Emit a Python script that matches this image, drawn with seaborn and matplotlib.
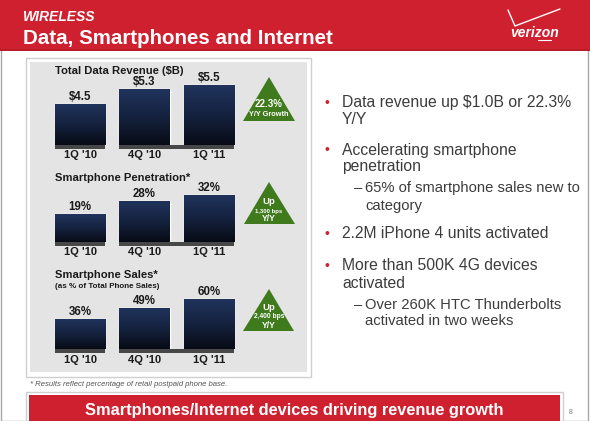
import numpy as np
import matplotlib
matplotlib.use("Agg")
import matplotlib.pyplot as plt
from matplotlib.patches import Rectangle, Polygon
from matplotlib.lines import Line2D
from matplotlib.colors import LinearSegmentedColormap
import matplotlib.transforms as mtrans
import seaborn as sns

# ---------------- data ----------------
quarters = ["1Q '10", "4Q '10", "1Q '11"]
data_revenue = [4.5, 5.3, 5.5]
penetration = [19, 28, 32]
sales_share = [36, 49, 60]
revenue_labels = ["$4.5", "$5.3", "$5.5"]
penetration_labels = ["19%", "28%", "32%"]
sales_labels = ["36%", "49%", "60%"]
chart_titles = ["Total Data Revenue ($B)", "Smartphone Penetration*", "Smartphone Sales*"]
chart_subtitle = "(as % of Total Phone Sales)"
growth_badges = [["22.3%", "Y/Y Growth"], ["Up", "1,300 bps", "Y/Y"], ["Up", "2,400 bps", "Y/Y"]]
header_kicker = "WIRELESS"
header_title = "Data, Smartphones and Internet"
bullet_lines = [
    (1, "Data revenue up $1.0B or 22.3%", True),
    (1, "Y/Y", False),
    (1, "Accelerating smartphone", True),
    (1, "penetration", False),
    (2, "65% of smartphone sales new to", True),
    (2, "category", False),
    (1, "2.2M iPhone 4 units activated", True),
    (1, "More than 500K 4G devices", True),
    (1, "activated", False),
    (2, "Over 260K HTC Thunderbolts", True),
    (2, "activated in two weeks", False),
]
footnote = "* Results reflect percentage of retail postpaid phone base."
banner = "Smartphones/Internet devices driving revenue growth"
page_no = "8"

# ---------------- setup ----------------
W, H = 590, 421
sns.set_theme(style="white")
plt.rcParams['font.family'] = ['Liberation Sans', 'DejaVu Sans']
fig = plt.figure(figsize=(W / 100, H / 100), dpi=100)
fig.patch.set_facecolor("white")

RED = "#cf202f"
GREEN = "#3f7a1c"
TEXT = "#3c3c3c"


def fx(x):
    return x / W


def fy(y):
    return 1 - y / H


def rect(x0, y0, x1, y1, **kw):
    fig.patches.append(Rectangle((fx(x0), fy(y1)), (x1 - x0) / W, (y1 - y0) / H,
                                 transform=fig.transFigure, **kw))


def text(x, y, s, **kw):
    kw.setdefault("va", "center")
    fig.text(fx(x), fy(y), s, **kw)


# slide frame
rect(0.5, 0.5, 588, 420.5, facecolor="white", edgecolor="#a8a8a8", lw=1, zorder=0)

# header
rect(0, 0, 590, 51, facecolor=RED, edgecolor="none", zorder=1)
rect(0, 49, 590, 51, facecolor="#b81c29", edgecolor="none", zorder=1)
text(23, 17, header_kicker, color="white", fontsize=10, fontweight="bold", style="italic", ha="left", zorder=3)
text(23, 39, header_title, color="white", fontsize=14.8, fontweight="bold", ha="left", zorder=3)
# logo
fig.lines.append(Line2D([fx(508), fx(515), fx(560)], [fy(10), fy(26), fy(9)],
                        transform=fig.transFigure, color="white", lw=1.0, zorder=3))
text(535, 33, "verizon", color="white", fontsize=10, fontweight="bold", style="italic", ha="center", zorder=3)
fig.lines.append(Line2D([fx(538), fx(551)], [fy(40), fy(40)],
                        transform=fig.transFigure, color="white", lw=0.8, zorder=3))

# left panel
rect(26, 58, 311, 377, facecolor="white", edgecolor="#cfcfcf", lw=1, zorder=1)
rect(30, 62, 307, 372, facecolor="#e4e4e4", edgecolor="none", zorder=1)

# ---------------- bar charts ----------------
ax_left_px, ax_w_px = 47.75, 193.5
specs = [
    (data_revenue, revenue_labels, 145, 65, 18.75, 2.31, 3.4),
    (penetration, penetration_labels, 242, 180, 1.47, 0.0, 3.4),
    (sales_share, sales_labels, 349, 283, 0.84, 0.0, 4.1),
]
cmap = LinearSegmentedColormap.from_list("bar", ["#070b15", "#15223f", "#20345d"])
grad = np.linspace(0, 1, 256).reshape(-1, 1)

for vals, labels, bot, top, k, base, pad in specs:
    ax = fig.add_axes([fx(ax_left_px), fy(bot), ax_w_px / W, (bot - top) / H])
    ax.set_zorder(5)
    ax.patch.set_alpha(0)
    sns.barplot(x=quarters, y=vals, ax=ax, color="#1a2a4c", width=0.78, saturation=1, zorder=2)
    ylim = (base, base + (bot - top) / k)
    for p in ax.patches:
        x0, w, h = p.get_x(), p.get_width(), p.get_height()
        y0 = max(p.get_y(), base)
        im = ax.imshow(grad, extent=[x0, x0 + w, y0, p.get_y() + h], origin="lower",
                       cmap=cmap, aspect="auto", zorder=2.5)
        im.set_clip_path(p)
    ax.bar_label(ax.containers[0], labels=labels, padding=0.5, fontsize=8.3,
                 fontweight="bold", color="#1a1a1a")
    ax.set_xlim(-0.5, 2.5)
    ax.set_ylim(*ylim)
    # baseline shadow strips
    tr = mtrans.blended_transform_factory(ax.transData, fig.transFigure)
    bars = ax.patches
    segs = [(bars[0].get_x(), bars[0].get_x() + bars[0].get_width()),
            (bars[1].get_x(), bars[2].get_x() + bars[2].get_width())]
    for a, b in segs:
        ax.add_patch(Rectangle((a, fy(bot + 4)), b - a, 4 / H, transform=tr,
                               facecolor="#474747", edgecolor="none", clip_on=False, zorder=1))
    for s in ax.spines.values():
        s.set_visible(False)
    ax.set_yticks([])
    ax.set_ylabel("")
    ax.tick_params(axis="x", length=0, pad=pad, labelsize=8, labelcolor="#1a1a1a")
    for lbl in ax.get_xticklabels():
        lbl.set_fontweight("bold")

# chart titles
text(55, 71, chart_titles[0], fontsize=8.1, fontweight="bold", color="#1a1a1a", ha="left", zorder=6)
text(55, 178, chart_titles[1], fontsize=8.1, fontweight="bold", color="#1a1a1a", ha="left", zorder=6)
text(55, 275, chart_titles[2], fontsize=8.1, fontweight="bold", color="#1a1a1a", ha="left", zorder=6)
text(55, 286, chart_subtitle, fontsize=5.8, fontweight="bold", color="#1a1a1a", ha="left", zorder=6)

# growth triangles
tris = [(269, 77, 243, 295, 121), (269, 182, 244, 295, 224), (269, 289, 243, 294, 331)]
for (ax_, ay, bl, br, by) in tris:
    fig.patches.append(Polygon([[fx(ax_), fy(ay)], [fx(bl), fy(by)], [fx(br), fy(by)]],
                               closed=True, transform=fig.transFigure,
                               facecolor=GREEN, edgecolor="none", zorder=2))
b0, b1, b2 = growth_badges
text(269, 104, b0[0], fontsize=7.0, fontweight="bold", color="white", ha="center", zorder=3)
text(269, 114.5, b0[1], fontsize=5.3, fontweight="bold", color="white", ha="center", zorder=3)
text(269, 201, b1[0], fontsize=6.8, fontweight="bold", color="white", ha="center", zorder=3)
text(269, 211, b1[1], fontsize=4.2, fontweight="bold", color="white", ha="center", zorder=3)
text(269, 219, b1[2], fontsize=6.2, fontweight="bold", color="white", ha="center", zorder=3)
text(269, 307, b2[0], fontsize=6.8, fontweight="bold", color="white", ha="center", zorder=3)
text(269, 317, b2[1], fontsize=4.8, fontweight="bold", color="white", ha="center", zorder=3)
text(269, 326, b2[2], fontsize=6.2, fontweight="bold", color="white", ha="center", zorder=3)

# bullets
line_y = [103, 120, 150, 167, 188, 206, 234, 266, 283, 305, 321]
for (lvl, s, first), y in zip(bullet_lines, line_y):
    if lvl == 1:
        if first:
            text(327, y, "\u2022", fontsize=10, color=RED, ha="center")
        text(342, y, s, fontsize=11.3, color=TEXT, ha="left")
    else:
        if first:
            text(358.5, y, "\u2013", fontsize=10.6, color=TEXT, ha="center")
        text(365, y, s, fontsize=10.6, color=TEXT, ha="left")

# footnote + banner
text(30, 384, footnote, fontsize=5.6, style="italic", color="#555555", ha="left")
rect(26, 392, 563, 421, facecolor="white", edgecolor="#cfcfcf", lw=1, zorder=1)
rect(29, 395, 560, 421, facecolor=RED, edgecolor="none", zorder=1)
text(294, 411, banner, fontsize=11.8, fontweight="bold", color="white", ha="center", zorder=3)
text(571, 412, page_no, fontsize=5, color="#777777", ha="center")

fig.savefig("out.png", dpi=100)
